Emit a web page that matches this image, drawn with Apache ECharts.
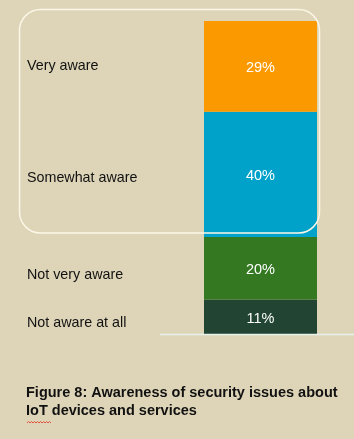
<!DOCTYPE html>
<html>
<head>
<meta charset="utf-8">
<script src="https://cdn.jsdelivr.net/npm/echarts@6/dist/echarts.min.js"></script>
<style>
html,body{margin:0;padding:0;background:#DED5B8;}
#c{width:354px;height:439px;}
</style>
</head>
<body>
<div id="c"></div>
<script>
// Data (bottom of the stack first)
const categories = ['Not aware at all', 'Not very aware', 'Somewhat aware', 'Very aware'];
const values = [11, 20, 40, 29];
const valueLabels = ['11%', '20%', '40%', '29%'];
const colors = ['#214532', '#347822', '#00A2C9', '#FB9A00'];
const nameOffsets = [-1, 0, -3, -7];
const titleLines = ['Figure 8: Awareness of security issues about', 'IoT devices and services'];

const chart = echarts.init(document.getElementById('c'), null, {renderer: 'canvas'});
const series = [];
categories.forEach((name, i) => {
  series.push({
    type: 'bar', name: name, stack: 'v', barWidth: 113, barGap: '-100%',
    data: [values[i]], itemStyle: {color: colors[i]},
    label: {show: true, position: 'inside', formatter: valueLabels[i], color: '#ffffff',
      fontFamily: 'Liberation Sans, Arial, sans-serif', fontSize: 14.5},
    labelLayout: {dy: 2},
    silent: true, z: 2
  });
  series.push({
    type: 'bar', name: name + '_n', stack: 'n', barWidth: 113, barGap: '-100%',
    data: [values[i]], itemStyle: {color: 'rgba(0,0,0,0)'},
    label: {show: true, position: 'inside', formatter: name, color: '#111111',
      fontFamily: 'Liberation Sans, Arial, sans-serif', fontSize: 14.3},
    labelLayout: {x: 27, align: 'left', dy: nameOffsets[i]},
    silent: true, z: 1
  });
});

chart.setOption({
  backgroundColor: '#DED5B8',
  animation: false,
  grid: {left: 204, right: 37, top: 21, bottom: 105},
  xAxis: {type: 'category', data: ['Awareness'], show: false},
  yAxis: {type: 'value', min: 0, max: 100, show: false},
  series: series,
  graphic: [
    {type: 'rect', shape: {x: 19.5, y: 9.5, width: 300, height: 223.5, r: 21},
      style: {fill: 'none', stroke: '#FBF6E6', lineWidth: 1.5}, z: 10},
    {type: 'line', shape: {x1: 160, y1: 334.5, x2: 354, y2: 334.5},
      style: {stroke: '#E6F3EC', lineWidth: 1.5}, z: 10},
    {type: 'text', left: 26, top: 384,
      style: {text: titleLines.join('\n'), fill: '#111111', font: 'bold 14.5px "Liberation Sans", Arial, sans-serif', lineHeight: 18}, z: 10},
    {type: 'polyline', shape: {points: [[27,423],[28.5,421.5],[30,423],[31.5,421.5],[33,423],[34.5,421.5],[36,423],[37.5,421.5],[39,423],[40.5,421.5],[42,423],[43.5,421.5],[45,423],[46.5,421.5],[48,423],[49.5,421.5],[51,423]]},
      style: {stroke: '#E03020', lineWidth: 0.8, fill: 'none'}, z: 10}
  ]
});
</script>
</body>
</html>
